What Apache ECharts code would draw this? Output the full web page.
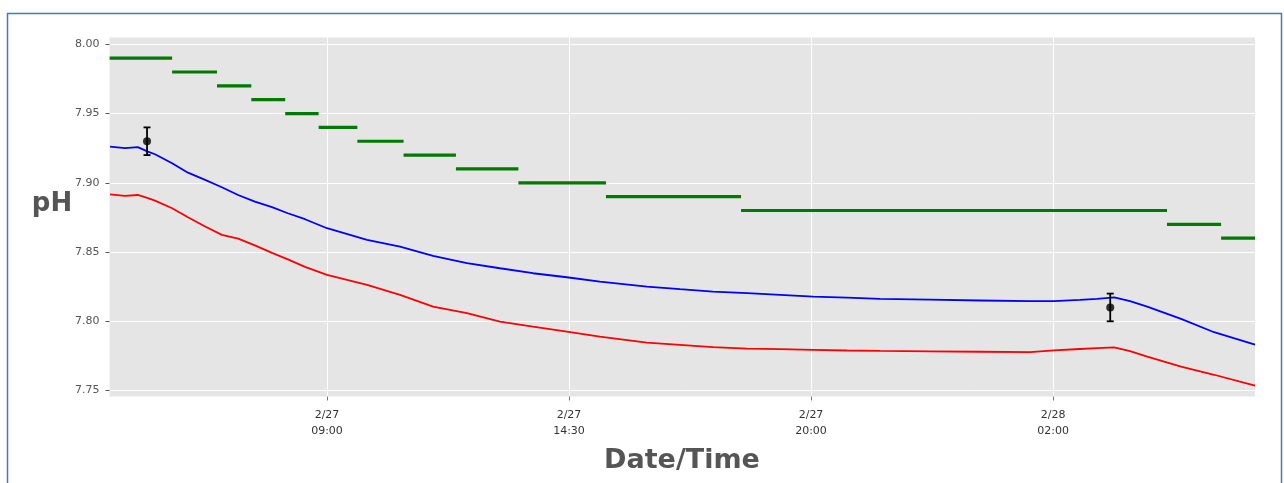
<!DOCTYPE html>
<html>
<head>
<meta charset="utf-8">
<script src="https://cdn.jsdelivr.net/npm/echarts@6/dist/echarts.min.js"></script>
<style>
html,body{margin:0;padding:0;background:#fff;}
#chart{width:1284px;height:483px;}
</style>
</head>
<body>
<div id="chart"></div>
<script>
// Time in hours since 2/27 00:00
var hours = [4.07, 4.41, 4.70, 4.93, 5.09, 5.48, 5.84, 6.23, 6.61, 6.98, 7.36, 7.75, 8.11, 8.50, 9.00, 9.91, 10.66, 11.41, 12.18, 12.93, 13.68, 14.45, 15.20, 16.27, 17.02, 17.77, 18.55, 19.30, 20.05, 20.82, 21.57, 22.70, 23.84, 24.98, 25.52, 26.11, 26.50, 26.89, 27.25, 27.64, 28.41, 29.16, 30.09];
var phBlue = [7.9261, 7.9250, 7.9257, 7.9225, 7.9206, 7.9141, 7.9073, 7.9021, 7.8968, 7.8912, 7.8864, 7.8824, 7.8780, 7.8737, 7.8672, 7.8588, 7.8539, 7.8472, 7.8420, 7.8383, 7.8347, 7.8318, 7.8287, 7.8251, 7.8232, 7.8214, 7.8203, 7.8191, 7.8178, 7.8171, 7.8162, 7.8156, 7.8150, 7.8145, 7.8145, 7.8155, 7.8162, 7.8173, 7.8145, 7.8106, 7.8017, 7.7921, 7.7831];
var phRed = [7.8917, 7.8905, 7.8912, 7.8889, 7.8871, 7.8816, 7.8751, 7.8684, 7.8624, 7.8597, 7.8548, 7.8494, 7.8447, 7.8393, 7.8335, 7.8263, 7.8191, 7.8106, 7.8059, 7.7998, 7.7962, 7.7926, 7.7890, 7.7846, 7.7830, 7.7813, 7.7803, 7.7799, 7.7794, 7.7789, 7.7786, 7.7783, 7.7780, 7.7778, 7.7790, 7.7800, 7.7806, 7.7812, 7.7785, 7.7745, 7.7672, 7.7614, 7.7535];
// Setpoint steps
var stepStart = [4.06, 5.48, 6.50, 7.28, 8.05, 8.81, 9.69, 10.74, 11.93, 13.35, 15.34, 18.41, 28.09, 29.32];
var stepEnd   = [5.48, 6.50, 7.28, 8.05, 8.81, 9.69, 10.74, 11.93, 13.35, 15.34, 18.41, 28.09, 29.32, 30.09];
var stepValue = [7.99, 7.98, 7.97, 7.96, 7.95, 7.94, 7.93, 7.92, 7.91, 7.90, 7.89, 7.88, 7.87, 7.86];
// Discrete samples with error bars
var sampleHours = [4.91, 26.80];
var sampleValue = [7.93, 7.81];
var sampleErr = [0.01, 0.01];
// Axis ticks
var xTickValues = [9, 14.5, 20, 25.5];
var xTickLabels = ['2/27\n09:00', '2/27\n14:30', '2/27\n20:00', '2/28\n02:00'];
var yTickValues = [7.75, 7.80, 7.85, 7.90, 7.95, 8.00];

var blueData = hours.map(function (h, i) { return [h, phBlue[i]]; });
var redData = hours.map(function (h, i) { return [h, phRed[i]]; });
var stepData = [];
stepValue.forEach(function (v, i) {
  stepData.push([stepStart[i], v]);
  stepData.push([stepEnd[i], v]);
  stepData.push([stepEnd[i], '-']);
});
var sampleData = sampleHours.map(function (h, i) { return [h, sampleValue[i], sampleErr[i]]; });

var chart = echarts.init(document.getElementById('chart'));
chart.setOption({
  animation: false,
  backgroundColor: '#ffffff',
  grid: {
    left: 109.5, top: 37.5, right: 29, bottom: 86.5,
    show: true, backgroundColor: '#e5e5e5', borderWidth: 0
  },
  xAxis: {
    type: 'value',
    min: 4.057, max: 30.09,
    axisLine: { show: false },
    axisTick: { show: true, length: 4, lineStyle: { color: '#777', width: 1 }, customValues: xTickValues },
    axisLabel: {
      customValues: xTickValues,
      margin: 11, color: '#333', fontSize: 11, lineHeight: 16,
      fontFamily: 'DejaVu Sans',
      formatter: function (v) {
        var i = xTickValues.indexOf(v);
        return i >= 0 ? xTickLabels[i] : '';
      }
    },
    splitLine: { show: true, lineStyle: { color: '#ffffff', width: 1 } }
  },
  yAxis: {
    type: 'value',
    min: 7.7457, max: 8.0049,
    axisLine: { show: false },
    axisTick: { show: true, length: 4, lineStyle: { color: '#555', width: 1 }, customValues: yTickValues },
    axisLabel: {
      customValues: yTickValues,
      margin: 10, color: '#555', fontSize: 11, fontFamily: 'DejaVu Sans',
      formatter: function (v) { return v.toFixed(2); }
    },
    splitLine: { show: true, lineStyle: { color: '#ffffff', width: 1 } }
  },
  graphic: [
    { type: 'rect', shape: { x: 7.5, y: 13.5, width: 1274, height: 520 }, style: { fill: 'none', stroke: '#4a78b0', lineWidth: 1.5 }, z: 100 },
    { type: 'text', x: 52, y: 204, style: { text: 'pH', fill: '#555555', font: 'bold 26px "DejaVu Sans"', textAlign: 'center', textVerticalAlign: 'middle' } },
    { type: 'text', x: 682, y: 461, style: { text: 'Date/Time', fill: '#555555', font: 'bold 27px "DejaVu Sans"', textAlign: 'center', textVerticalAlign: 'middle' } }
  ],
  series: [
    {
      type: 'line', data: stepData, showSymbol: false, connectNulls: false,
      lineStyle: { color: '#007a00', width: 3.2 }, z: 3
    },
    {
      type: 'line', data: blueData, showSymbol: false,
      lineStyle: { color: '#0000ff', width: 1.8 }, z: 3
    },
    {
      type: 'line', data: redData, showSymbol: false,
      lineStyle: { color: '#ff0000', width: 1.8 }, z: 3
    },
    {
      type: 'custom', z: 4,
      data: sampleData,
      renderItem: function (params, api) {
        var x = api.value(0), y = api.value(1), e = api.value(2);
        var top = api.coord([x, y + e]);
        var bot = api.coord([x, y - e]);
        var cw = 3.5;
        var st = { stroke: '#000', lineWidth: 1.8 };
        return {
          type: 'group',
          children: [
            { type: 'line', shape: { x1: top[0], y1: top[1], x2: bot[0], y2: bot[1] }, style: st },
            { type: 'line', shape: { x1: top[0] - cw, y1: top[1], x2: top[0] + cw, y2: top[1] }, style: st },
            { type: 'line', shape: { x1: bot[0] - cw, y1: bot[1], x2: bot[0] + cw, y2: bot[1] }, style: st }
          ]
        };
      }
    },
    {
      type: 'scatter', z: 5,
      data: sampleData.map(function (d) { return [d[0], d[1]]; }),
      symbol: 'circle', symbolSize: 8,
      itemStyle: { color: '#000000' }
    }
  ]
});
</script>
</body>
</html>
